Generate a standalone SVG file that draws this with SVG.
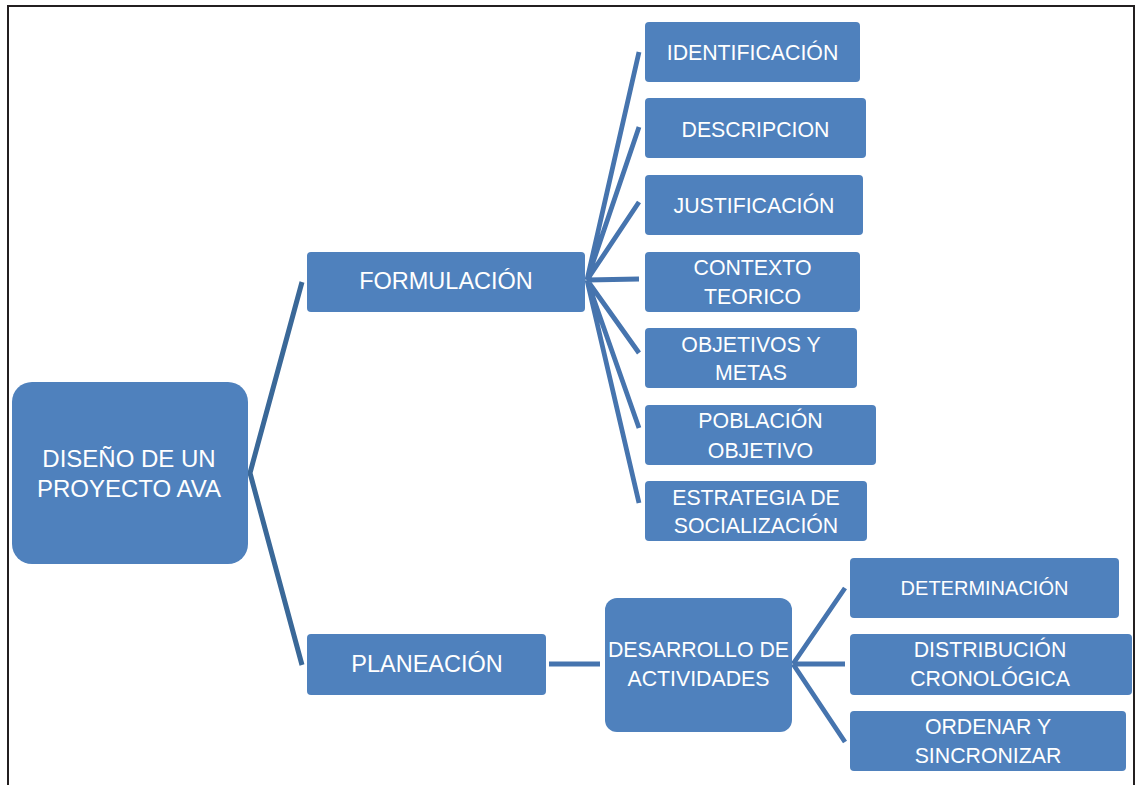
<svg xmlns="http://www.w3.org/2000/svg" width="1135" height="785" viewBox="0 0 1135 785">
<style>
.box{fill:#4F81BD}
.t{font-family:"Liberation Sans",Arial,sans-serif;fill:#fff;text-anchor:middle}
.l0{font-size:24px}
.l1{font-size:23.5px}
.l2{font-size:21.3px}
.c1{stroke:#3A6898;stroke-width:5;fill:none;stroke-linecap:butt}
.c2{stroke:#4674AE;stroke-width:4.8;fill:none;stroke-linecap:butt}
</style>
<rect width="1135" height="785" fill="#fff"/>
<path d="M8 785 V6 H1134 V785" fill="none" stroke="#231F20" stroke-width="2"/>
<g id="connectors">
<path class="c1" d="M302 282 L250 473 L302 665"/>
<path class="c2" d="M639 52 L587 280 M639 127 L587 280 M639 202 L587 280 M639 279 L587 280 M639 353 L587 280 M639 428 L587 280 M639 503 L587 280"/>
<path class="c2" d="M549 664 H600"/>
<path class="c2" d="M845 588 L793 664 M845 664 H793 M845 742 L793 664"/>
</g>
<g id="n-root"><rect class="box" x="12" y="382" width="236" height="182" rx="20"/><text class="t l0" x="129" y="467">DISEÑO DE UN</text><text class="t l0" x="129" y="497">PROYECTO AVA</text></g>
<g id="n-formulacion"><rect class="box" x="307" y="252" width="278" height="60" rx="4"/><text class="t l1" x="446" y="289">FORMULACIÓN</text></g>
<g id="n-planeacion"><rect class="box" x="307" y="634" width="239" height="61" rx="4"/><text class="t l1" x="427" y="672">PLANEACIÓN</text></g>
<g id="n-identificacion"><rect class="box" x="645" y="22" width="215" height="60" rx="4"/><text class="t l2" x="752.5" y="60">IDENTIFICACIÓN</text></g>
<g id="n-descripcion"><rect class="box" x="645" y="98" width="221" height="60" rx="4"/><text class="t l2" x="755.5" y="137">DESCRIPCION</text></g>
<g id="n-justificacion"><rect class="box" x="645" y="175" width="218" height="60" rx="4"/><text class="t l2" x="754" y="213">JUSTIFICACIÓN</text></g>
<g id="n-contexto"><rect class="box" x="645" y="252" width="215" height="60" rx="4"/><text class="t l2" x="752.5" y="275">CONTEXTO</text><text class="t l2" x="752.5" y="304">TEORICO</text></g>
<g id="n-objetivos"><rect class="box" x="645" y="328" width="212" height="60" rx="4"/><text class="t l2" x="751" y="352">OBJETIVOS Y</text><text class="t l2" x="751" y="380">METAS</text></g>
<g id="n-poblacion"><rect class="box" x="645" y="405" width="231" height="60" rx="4"/><text class="t l2" x="760.5" y="428">POBLACIÓN</text><text class="t l2" x="760.5" y="458">OBJETIVO</text></g>
<g id="n-estrategia"><rect class="box" x="645" y="481" width="222" height="60" rx="4"/><text class="t l2" x="756" y="505">ESTRATEGIA DE</text><text class="t l2" x="756" y="533">SOCIALIZACIÓN</text></g>
<g id="n-desarrollo"><rect class="box" x="605" y="598" width="187" height="134" rx="12"/><text class="t l2" x="698.5" y="657">DESARROLLO DE</text><text class="t l2" x="698.5" y="686">ACTIVIDADES</text></g>
<g id="n-determinacion"><rect class="box" x="850" y="558" width="269" height="60" rx="4"/><text class="t l2" x="984.5" y="595" style="font-size:20px">DETERMINACIÓN</text></g>
<g id="n-distribucion"><rect class="box" x="850" y="634" width="282" height="61" rx="4"/><text class="t l2" x="990" y="657">DISTRIBUCIÓN</text><text class="t l2" x="990" y="686">CRONOLÓGICA</text></g>
<g id="n-ordenar"><rect class="box" x="850" y="711" width="276" height="60" rx="4"/><text class="t l2" x="988" y="734">ORDENAR Y</text><text class="t l2" x="988" y="763">SINCRONIZAR</text></g>
</svg>
